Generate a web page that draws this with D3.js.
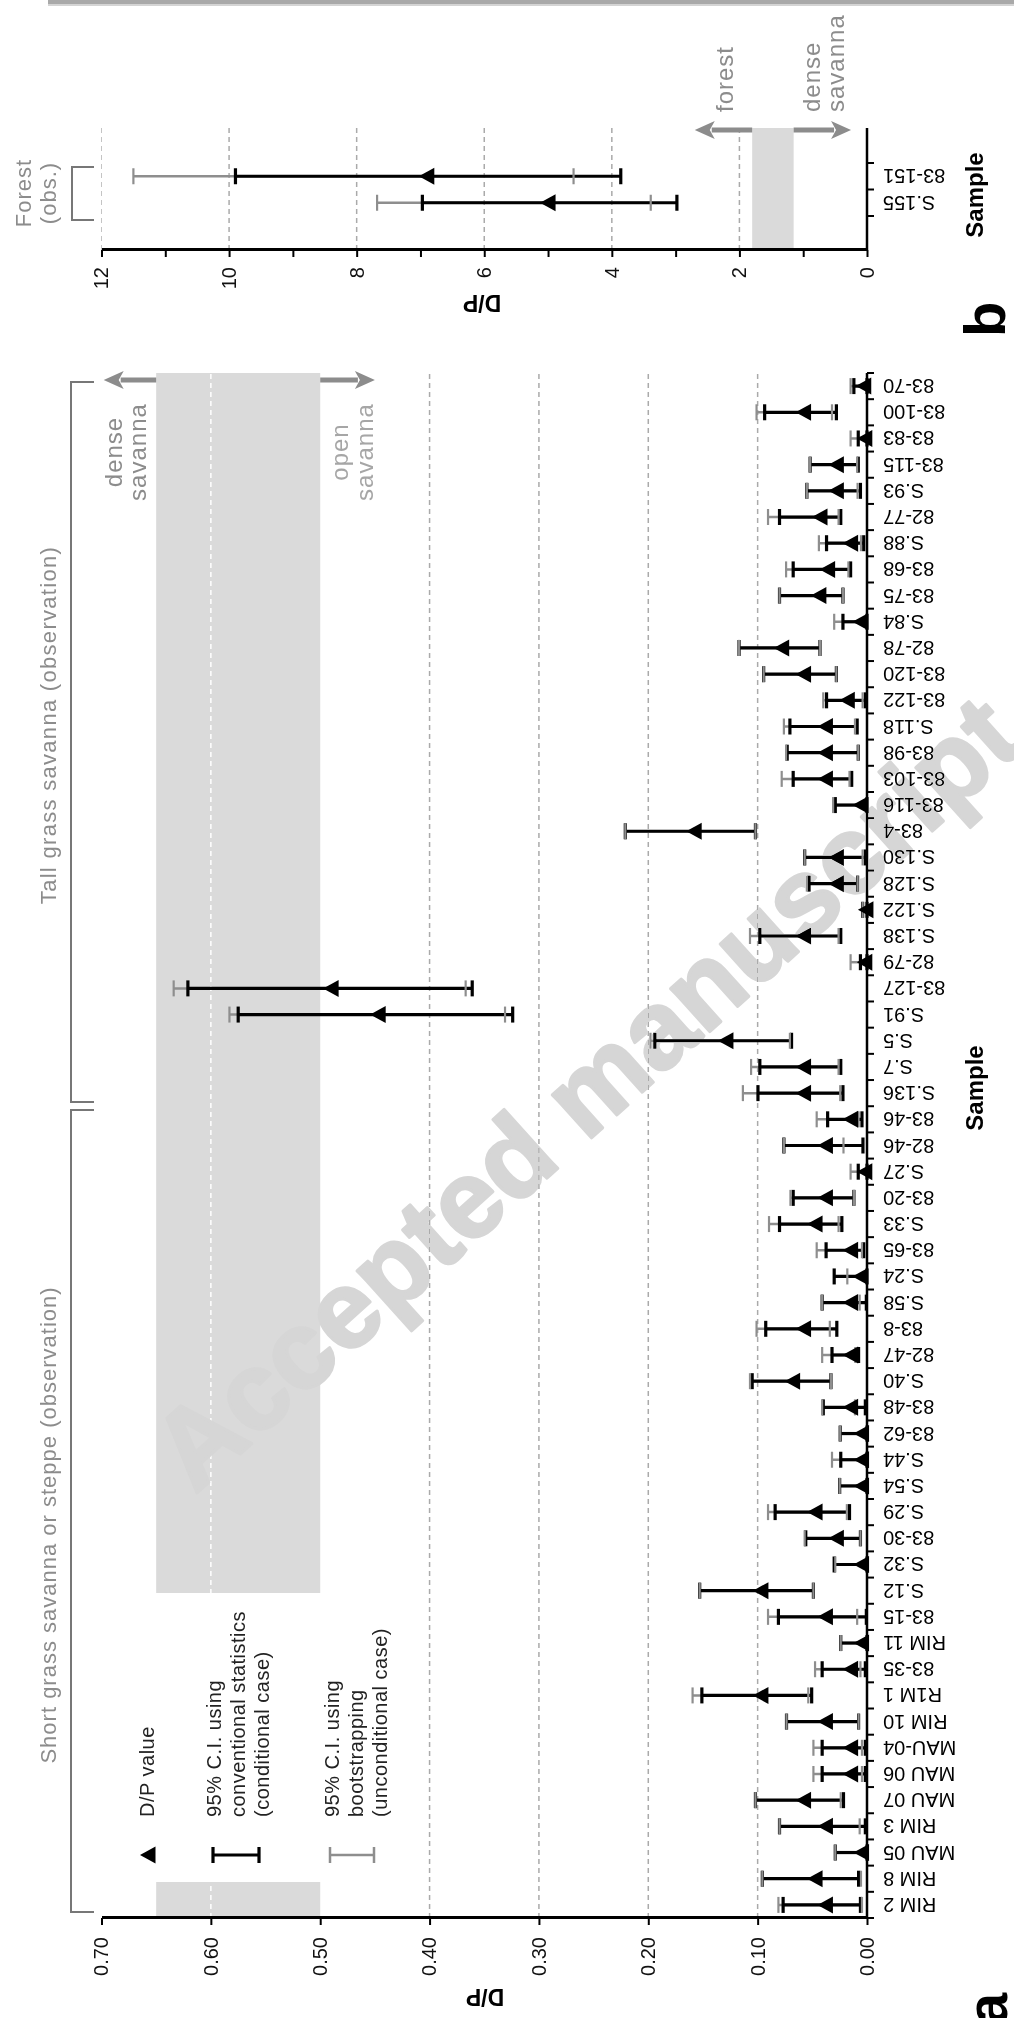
<!DOCTYPE html>
<html>
<head>
<meta charset="utf-8">
<script src="https://cdnjs.cloudflare.com/ajax/libs/d3/7.8.5/d3.min.js"></script>
<style>
html, body { margin:0; padding:0; background:#fff; }
svg { display:block; }
text { font-family:"Liberation Sans", Arial, sans-serif; }
</style>
</head>
<body>
<div id="chart"></div>
<script>
// ---- panel a data (samples listed left to right in the unrotated figure) ----
var samples = ["RIM 2","RIM 8","MAU 05","RIM 3","MAU 07","MAU 06","MAU-04","RIM 10","R1M 1","83-35",
  "RIM 11","83-15","S.12","S.32","83-30","S.29","S.54","S.44","83-62","83-48",
  "S.40","82-47","83-8","S.58","S.24","83-65","S.33","83-20","S.27","82-46",
  "83-46","S.136","S.7","S.5","S.91","83-127","82-79","S.138","S.122","S.128",
  "S.130","83-4","83-116","83-103","83-98","S.118","83-122","83-120","82-78","S.84",
  "83-75","83-68","S.88","82-77","S.93","83-115","83-83","83-100","83-70"];
var dpValue = [0.038,0.0475,0.005,0.038,0.058,0.015,0.015,0.038,0.097,0.015,
  0.005,0.038,0.097,0.005,0.028,0.0475,0.005,0.005,0.005,0.015,
  0.068,0.015,0.058,0.015,0.006,0.015,0.0475,0.038,0.002,0.038,
  0.015,0.058,0.058,0.129,0.447,0.49,0.002,0.058,0.001,0.028,
  0.028,0.158,0.006,0.038,0.038,0.038,0.018,0.058,0.078,0.006,
  0.044,0.036,0.015,0.043,0.028,0.028,0.002,0.058,0.003];
var convLow = [0.006,0.0077,0,0.0015,0.0215,0.0015,0.0015,0.0077,0.0506,0.0015,
  0,0.0006,0.049,0,0.006,0.016,0,0,0,0.0015,
  0.033,0.0077,0.0276,0.0006,0,0.003,0.023,0.012,0,0.0037,
  0.0046,0.022,0.024,0.069,0.324,0.361,0,0.024,0,0.0086,
  0.0015,0.102,0,0.014,0.008,0.009,0.0015,0.028,0.043,0,
  0.022,0.015,0.003,0.024,0.006,0.008,0,0.028,0];
var convHigh = [0.0767,0.0957,0.029,0.080,0.102,0.041,0.041,0.0736,0.151,0.041,
  0.024,0.081,0.153,0.030,0.056,0.084,0.025,0.024,0.0245,0.040,
  0.105,0.032,0.0926,0.041,0.030,0.0374,0.080,0.0675,0.008,0.076,
  0.036,0.0997,0.098,0.194,0.575,0.621,0.006,0.098,0.004,0.053,
  0.057,0.221,0.029,0.0675,0.073,0.0705,0.037,0.0945,0.117,0.022,
  0.080,0.0675,0.037,0.080,0.055,0.052,0.008,0.0936,0.012];
var bootLow = [0.0046,0.0055,0,0.0067,0.024,0.0046,0.0046,0.0077,0.0537,0.006,
  0,0.009,0.049,0,0.006,0.0184,0,0,0,0.011,
  0.033,0.0107,0.034,0.0067,0,0.0046,0.026,0.012,0,0.0215,
  0.0077,0.0245,0.026,0.0705,0.331,0.367,0,0.026,0,0.0086,
  0.004,0.102,0,0.016,0.008,0.011,0.004,0.028,0.043,0,
  0.022,0.017,0.0055,0.026,0.0086,0.009,0,0.032,0];
var bootHigh = [0.081,0.0957,0.029,0.080,0.102,0.049,0.049,0.0736,0.1595,0.0475,
  0.024,0.0905,0.153,0.029,0.057,0.0905,0.025,0.032,0.0245,0.041,
  0.107,0.041,0.101,0.041,0.018,0.046,0.0896,0.070,0.015,0.076,
  0.046,0.1135,0.106,0.198,0.583,0.634,0.015,0.107,0.004,0.055,
  0.057,0.221,0.031,0.078,0.074,0.076,0.040,0.0945,0.117,0.030,
  0.080,0.074,0.044,0.0905,0.055,0.052,0.015,0.101,0.015];
var ticksA = [0,0.1,0.2,0.3,0.4,0.5,0.6,0.7];
var gridA = [0.1,0.2,0.3,0.4];
var bandA = [0.5,0.65];

// ---- panel b data ----
var samplesB = ["S.155","83-151"];
var dpValueB = [5.0,6.9];
var convLowB = [2.98,3.86], convHighB = [6.97,9.9];
var bootLowB = [3.39,4.6], bootHighB = [7.68,11.5];
var ticksB = [0,1,2,3,4,5,6,7,8,9,10,11,12];
var gridB = [2,4,6,8,10,12];
var bandB = [1.15,1.8];

var W = 1014, H = 2018;
var GREY = "#8c8c8c", BAR_GREY = "#8e8e8e", BAND = "#dadada";

var svg = d3.select("#chart").append("svg").attr("width",W).attr("height",H);

// scan edge at the top of the page
svg.append("rect").attr("x",48).attr("y",0).attr("width",W-48).attr("height",4).style("fill","#a9a9a9");
svg.append("rect").attr("x",48).attr("y",4).attr("width",W-48).attr("height",2).style("fill","#d4d4d4");

// the figure is drawn landscape (2018 x 1014) and turned a quarter left
var stage = svg.append("g").attr("transform","translate(0,"+H+") rotate(-90)");

var tri = function(cx, cy){
  return "M"+cx+","+(cy-8)+"L"+(cx+8.5)+","+(cy+7.5)+"L"+(cx-8.5)+","+(cy+7.5)+"Z";
};

var arrowV = function(g, x, yFrom, yTo){
  var dir = yTo > yFrom ? 1 : -1, hl = 17, hw = 9;
  g.append("line").attr("x1",x).attr("x2",x).attr("y1",yFrom).attr("y2",yTo-dir*hl)
    .style("stroke",GREY).style("stroke-width",5);
  g.append("path")
    .attr("d","M"+x+","+yTo+"L"+(x-hw)+","+(yTo-dir*(hl+3))+"L"+x+","+(yTo-dir*(hl-2))+"L"+(x+hw)+","+(yTo-dir*(hl+3))+"Z")
    .style("fill",GREY);
};

var drawBars = function(g, cats, xs, ys, val, cl, ch, bl, bh){
  var bw = xs.bandwidth();
  var cx = function(i){ return xs(cats[i]) + bw/2; };
  var idx = d3.range(cats.length);
  // bootstrap (grey) lines
  g.selectAll("line.boot").data(idx).enter().append("line").attr("class","boot")
    .attr("x1",cx).attr("x2",cx)
    .attr("y1",function(i){return ys(bl[i]);}).attr("y2",function(i){return ys(bh[i]);})
    .style("stroke",BAR_GREY).style("stroke-width",2.5);
  // conventional (black)
  g.selectAll("line.conv").data(idx).enter().append("line").attr("class","conv")
    .attr("x1",cx).attr("x2",cx)
    .attr("y1",function(i){return ys(cl[i]);}).attr("y2",function(i){return ys(ch[i]);})
    .style("stroke","#000").style("stroke-width",3.2);
  [cl,ch].forEach(function(arr){
    g.append("g").selectAll("line").data(idx).enter().append("line")
      .attr("x1",function(i){return cx(i)-8;}).attr("x2",function(i){return cx(i)+8;})
      .attr("y1",function(i){return ys(arr[i]);}).attr("y2",function(i){return ys(arr[i]);})
      .style("stroke","#000").style("stroke-width",3.2);
  });
  [bl,bh].forEach(function(arr){
    g.append("g").selectAll("line").data(idx).enter().append("line")
      .attr("x1",function(i){return cx(i)-8;}).attr("x2",function(i){return cx(i)+8;})
      .attr("y1",function(i){return ys(arr[i]);}).attr("y2",function(i){return ys(arr[i]);})
      .style("stroke",BAR_GREY).style("stroke-width",2.2);
  });
  g.selectAll("path.pt").data(idx).enter().append("path").attr("class","pt")
    .attr("d",function(i){return tri(cx(i), ys(val[i]));})
    .style("fill","#000");
};

var styleAxis = function(ga){
  ga.select(".domain").style("stroke","#000").style("stroke-width",3);
  ga.selectAll(".tick line").style("stroke","#000").style("stroke-width",2);
  ga.selectAll(".tick text").style("font-size","20px").style("fill","#111")
    .style("font-family","'Liberation Sans', Arial, sans-serif");
};

var sampleAxis = function(g, xs, y0, x0, x1){
  var ax = d3.axisBottom(xs).tickSize(0).tickSizeOuter(0);
  var gs = g.append("g").attr("transform","translate(0,"+y0+")").call(ax);
  gs.select(".domain").remove();
  gs.selectAll(".tick text")
    .attr("transform","rotate(-90)").attr("x",-16).attr("y",0).attr("dy","0.35em")
    .style("text-anchor","end").style("font-size","20px").style("fill","#000")
    .style("font-family","'Liberation Sans', Arial, sans-serif");
  var bounds = xs.domain().map(function(d){return xs(d);});
  bounds.push(xs(xs.domain()[xs.domain().length-1]) + xs.bandwidth());
  gs.selectAll("line.bt").data(bounds).enter().append("line").attr("class","bt")
    .attr("x1",function(d){return d;}).attr("x2",function(d){return d;})
    .attr("y1",0).attr("y2",7).style("stroke","#000").style("stroke-width",2);
  gs.append("line").attr("x1",x0).attr("x2",x1).attr("y1",0).attr("y2",0)
    .style("stroke","#000").style("stroke-width",2.5);
};

var greyText = function(g, x, y, str, size, anchor, color){
  return g.append("text").attr("x",x).attr("y",y).text(str)
    .style("font-size",size+"px").style("letter-spacing","1px")
    .style("fill",color||GREY).style("text-anchor",anchor||"middle");
};

// ================= panel a =================
var ya = d3.scaleLinear().domain([0,0.7]).range([867,101.5]);
var xa = d3.scaleBand().domain(samples).range([100,1645]);
var ga = stage.append("g").attr("class","panel-a");

ga.append("rect").attr("x",100).attr("width",1545)
  .attr("y",ya(bandA[1])).attr("height",ya(bandA[0])-ya(bandA[1])).style("fill",BAND);
ga.selectAll("line.grid").data(gridA).enter().append("line").attr("class","grid")
  .attr("x1",100).attr("x2",1645).attr("y1",ya).attr("y2",ya)
  .style("stroke","#aaa").style("stroke-width",1.5).style("stroke-dasharray","5,4");
ga.append("line").attr("x1",100).attr("x2",1645).attr("y1",ya(0.6)).attr("y2",ya(0.6))
  .style("stroke","#fff").style("stroke-width",1.5).style("stroke-dasharray","5,4");

// legend box
ga.append("rect").attr("x",136).attr("width",289).attr("y",ya(0.66)).attr("height",ya(0.49)-ya(0.66)).style("fill","#fff");
ga.append("path").attr("d",tri(163,148)).style("fill","#000");
ga.append("line").attr("x1",163).attr("x2",163).attr("y1",213).attr("y2",259).style("stroke","#000").style("stroke-width",3.2);
[213,259].forEach(function(y){
  ga.append("line").attr("x1",155).attr("x2",171).attr("y1",y).attr("y2",y).style("stroke","#000").style("stroke-width",3.2);
});
ga.append("line").attr("x1",163).attr("x2",163).attr("y1",330).attr("y2",374).style("stroke",BAR_GREY).style("stroke-width",2.5);
[330,374].forEach(function(y){
  ga.append("line").attr("x1",155).attr("x2",171).attr("y1",y).attr("y2",y).style("stroke",BAR_GREY).style("stroke-width",2.5);
});
var legendLines = [["D/P value",154],["95% C.I. using",221],["conventional statistics",245],["(conditional case)",269],
  ["95% C.I. using",339],["bootstrapping",363],["(unconditional case)",387]];
legendLines.forEach(function(l){
  ga.append("text").attr("x",201).attr("y",l[1]).text(l[0])
    .style("font-size","20px").style("letter-spacing","0.5px").style("fill","#222");
});

drawBars(ga, samples, xa, ya, dpValue, convLow, convHigh, bootLow, bootHigh);

var axA = d3.axisLeft(ya).tickValues(ticksA).tickFormat(d3.format(".2f")).tickSize(7).tickSizeOuter(0).tickPadding(12);
var gaxA = ga.append("g").attr("transform","translate(100,0)").call(axA);
styleAxis(gaxA);
sampleAxis(ga, xa, 867, 100, 1645);

// arrows and labels
arrowV(ga, 1638, ya(bandA[1]), ya(0.698));
arrowV(ga, 1638, ya(bandA[0]), ya(0.45));
greyText(ga, 1566, 122, "dense", 24);
greyText(ga, 1566, 146, "savanna", 24);
greyText(ga, 1566, 348, "open", 24, "middle", "#a6a6a6");
greyText(ga, 1566, 373, "savanna", 24, "middle", "#a6a6a6");

// vegetation brackets
ga.append("path").attr("d","M106,94V71H908V94").style("fill","none").style("stroke","#777").style("stroke-width",2);
ga.append("path").attr("d","M916,94V71H1636V94").style("fill","none").style("stroke","#777").style("stroke-width",2);
greyText(ga, 493, 56, "Short grass savanna or steppe (observation)", 22);
greyText(ga, 1293, 56, "Tall grass savanna (observation)", 22).style("letter-spacing","1.3px");

// axis titles
ga.append("text").attr("transform","translate(21,485) rotate(-90)").attr("dy","0.35em")
  .style("text-anchor","middle").style("font-size","23px").style("font-weight","bold").text("D/P");
ga.append("text").attr("x",930).attr("y",975).attr("dy","0.35em")
  .style("text-anchor","middle").style("font-size","24px").style("font-weight","bold").text("Sample");
ga.append("text").attr("x",-7).attr("y",1007).style("font-size","58px").style("font-weight","bold").text("a");

// ================= panel b =================
var yb = d3.scaleLinear().domain([0,12]).range([867,101.5]);
var xb = d3.scaleBand().domain(samplesB).range([1802,1855]);
var gb = stage.append("g").attr("class","panel-b");

gb.append("rect").attr("x",1768).attr("width",122)
  .attr("y",yb(bandB[1])).attr("height",yb(bandB[0])-yb(bandB[1])).style("fill",BAND);
gb.selectAll("line.grid").data(gridB).enter().append("line").attr("class","grid")
  .attr("x1",1768).attr("x2",1890).attr("y1",yb).attr("y2",yb)
  .style("stroke",function(d){return d===12 ? "#c4c4c4" : "#aaa";})
  .style("stroke-width",function(d){return d===12 ? 1 : 1.5;})
  .style("stroke-dasharray","5,4");

drawBars(gb, samplesB, xb, yb, dpValueB, convLowB, convHighB, bootLowB, bootHighB);

var axB = d3.axisLeft(yb).tickValues(ticksB).tickFormat(function(d){return d%2===0 ? d : "";})
  .tickSize(7).tickSizeOuter(0).tickPadding(10);
var gaxB = gb.append("g").attr("transform","translate(1768,0)").call(axB);
styleAxis(gaxB);
sampleAxis(gb, xb, 867, 1768, 1890);

arrowV(gb, 1888, yb(bandB[1]), yb(2.7));
arrowV(gb, 1888, yb(bandB[0]), yb(0.25));
greyText(gb, 1906, 733, "forest", 24, "start");
greyText(gb, 1906, 820, "dense", 24, "start");
greyText(gb, 1906, 844, "savanna", 24, "start");

gb.append("path").attr("d","M1798,94V72H1851V94").style("fill","none").style("stroke","#777").style("stroke-width",2);
greyText(gb, 1825, 31, "Forest", 22);
greyText(gb, 1825, 56, "(obs.)", 22);

gb.append("text").attr("transform","translate(1715,482) rotate(-90)").attr("dy","0.35em")
  .style("text-anchor","middle").style("font-size","23px").style("font-weight","bold").text("D/P");
gb.append("text").attr("x",1823).attr("y",975).attr("dy","0.35em")
  .style("text-anchor","middle").style("font-size","24px").style("font-weight","bold").text("Sample");
gb.append("text").attr("x",1681).attr("y",1005).style("font-size","58px").style("font-weight","bold").text("b");

// watermark over the page (darken: it shows on white, hides under the grey band and black marks)
svg.append("text").attr("transform","translate(585,1092) rotate(-42)").attr("dy","0.35em")
  .style("text-anchor","middle").style("font-size","110px").style("font-weight","bold")
  .style("fill","#d6d6d6").style("stroke","#d6d6d6").style("stroke-width",3)
  .style("stroke-linejoin","round").style("mix-blend-mode","darken")
  .text("Accepted manuscript");
</script>
</body>
</html>
